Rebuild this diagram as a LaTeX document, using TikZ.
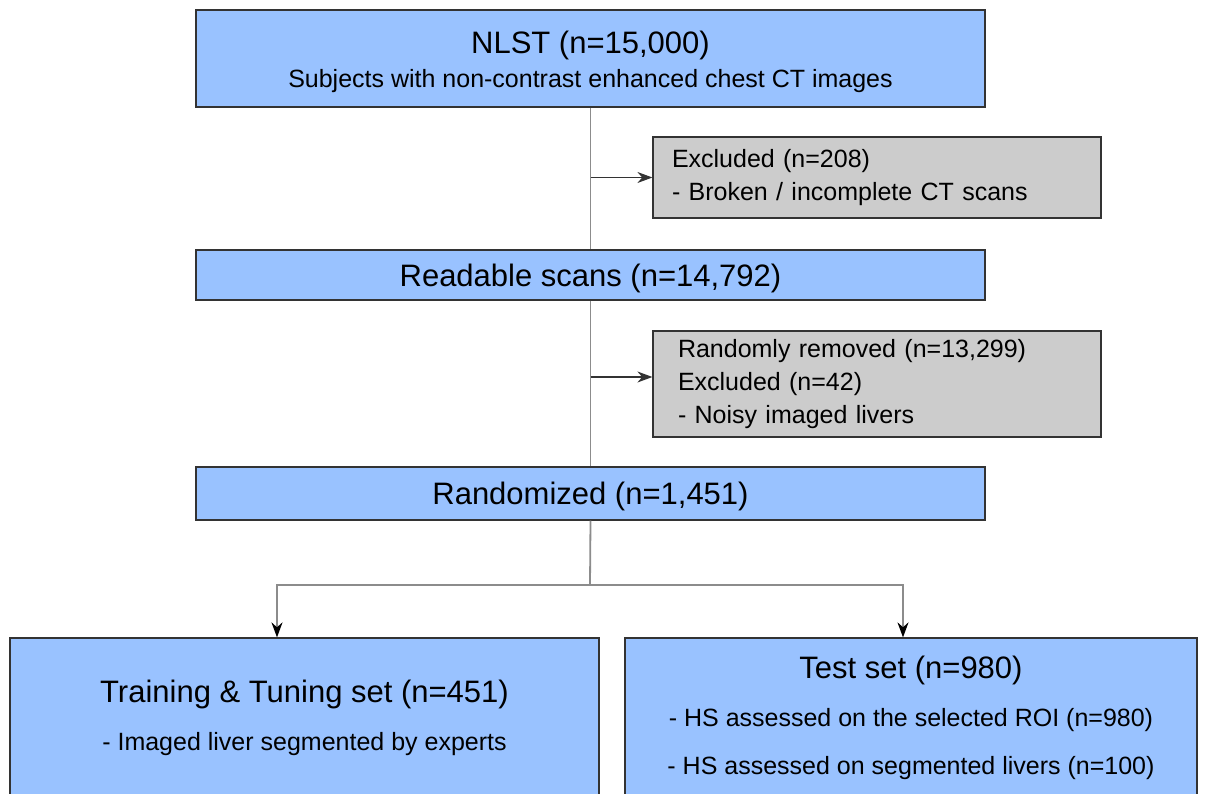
\documentclass[tikz,border=0pt]{standalone}
\usepackage{fontspec}
\setmainfont{Liberation Sans}
\usetikzlibrary{arrows.meta}
\definecolor{boxblue}{HTML}{99C2FF}
\definecolor{boxgray}{HTML}{CCCCCC}
\definecolor{edgegray}{HTML}{333333}
\definecolor{linegray}{HTML}{8C8C8C}

\begin{document}
\begin{tikzpicture}[x=1pt,y=-1pt,
  stage/.style={draw=edgegray,line width=1.2pt,fill=boxblue,inner sep=0pt,align=center,
    font=\fontsize{31}{36}\selectfont},
  subset/.style={stage,minimum width=#1,minimum height=159pt,font=\fontsize{25}{48}\selectfont},
  excl/.style={draw=edgegray,line width=1.2pt,fill=boxgray,align=left,inner ysep=0pt,
    font=\fontsize{25}{33}\selectfont},
  trunk/.style={draw=linegray,line width=1.8pt},
  flow/.style={draw=edgegray,line width=1.3pt,-{Stealth[length=15pt,width=11pt]}},
  branch/.style={trunk,-{Stealth[color=black,length=15pt,width=11pt]}}]

  \fill[white] (0,0) rectangle (1208,794);
  \clip (0,0) rectangle (1208,794);

  \node[stage,minimum width=789pt,minimum height=97pt,font=\fontsize{25}{34}\selectfont] (nlst) at (590.5,58.5)
   {{\fontsize{31}{36}\selectfont\rule{0pt}{30pt}NLST (n=15,000)}\\Subjects with non-contrast enhanced chest CT images};

  \node[excl,text width=410pt,inner xsep=19pt,minimum height=81pt] (excl1) at (877,177.5)
   {Excluded (n=208)\\- Broken / incomplete CT scans};

  \node[stage,minimum width=789pt,minimum height=50pt,text depth=0pt] (readable) at (590.5,275)
   {Readable scans (n=14,792)};

  \node[excl,text width=398pt,inner xsep=25pt,minimum height=106pt] (excl2) at (877,384)
   {Randomly removed (n=13,299)\\Excluded (n=42)\\- Noisy imaged livers};

  \node[stage,minimum width=789pt,minimum height=53pt,text depth=0pt] (randomized) at (590.5,493.5)
   {Randomized (n=1,451)};

  \node[subset=589pt] (train) at (304.5,717.5)
   {{\fontsize{31}{36}\selectfont Training \& Tuning set (n=451)}\\- Imaged liver segmented by experts};

  \node[subset=572pt] (test) at (911,717.5)
   {{\fontsize{31}{36}\selectfont Test set (n=980)}\\- HS assessed on the selected ROI (n=980)\\- HS assessed on segmented livers (n=100)};

  \coordinate (excl2in) at ([yshift=7pt]excl2.west);
  \coordinate (fork) at (590,585);

  \draw[trunk] (nlst) -- (readable);
  \draw[flow] (nlst.south |- excl1.west) -- (excl1.west);
  \draw[trunk] (readable) -- (randomized);
  \draw[flow] (readable.south |- excl2in) -- (excl2in);
  \draw[trunk] (randomized.south) -- (fork);
  \draw[branch] (fork) -| ([xshift=-27.5pt]train.north);
  \draw[branch] (fork) -| ([xshift=-8pt]test.north);

\end{tikzpicture}
\end{document}
